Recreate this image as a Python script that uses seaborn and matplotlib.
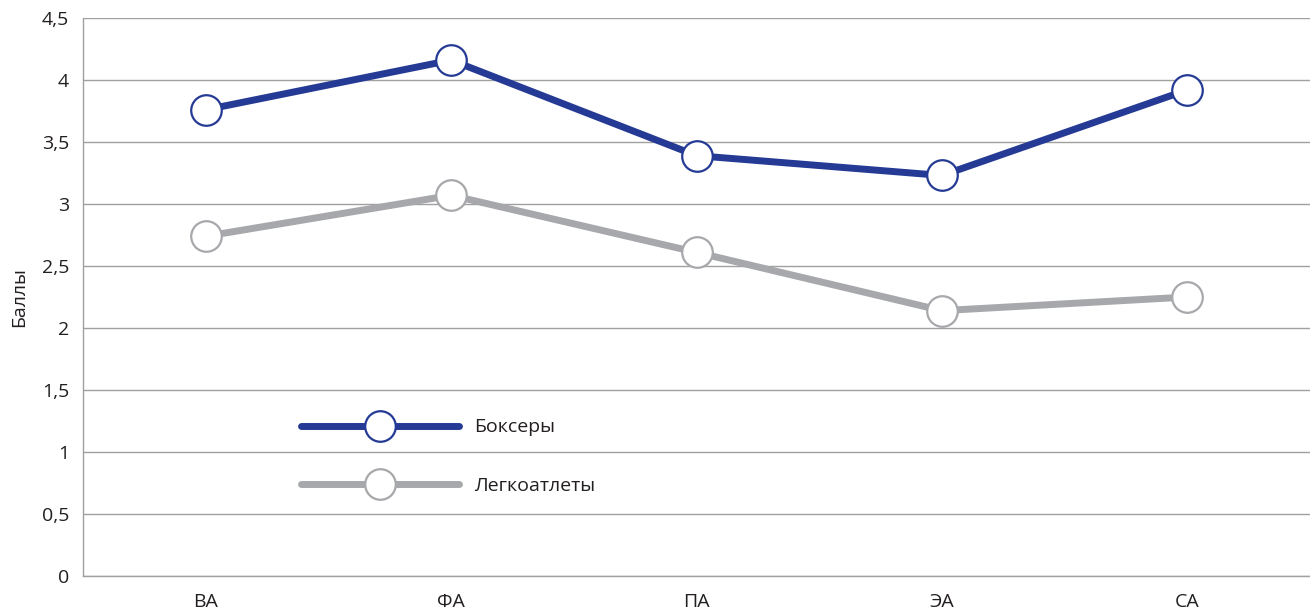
import pandas as pd
import matplotlib
matplotlib.use("Agg")
import matplotlib.pyplot as plt
import seaborn as sns

# Data
categories = ["ВА", "ФА", "ПА", "ЭА", "СА"]
boxers = [3.76, 4.16, 3.39, 3.23, 3.92]
athletes = [2.74, 3.07, 2.61, 2.14, 2.25]
series_names = ["Боксеры", "Легкоатлеты"]
y_ticks = [0, 0.5, 1, 1.5, 2, 2.5, 3, 3.5, 4, 4.5]
y_tick_labels = ["0", "0,5", "1", "1,5", "2", "2,5", "3", "3,5", "4", "4,5"]

colors = ["#253a94", "#a7a8ab"]

sns.set_style("white")
plt.rcParams['font.family'] = ['Open Sans', 'DejaVu Sans']

df = pd.DataFrame({
    "cat": categories * 2,
    "x": list(range(len(categories))) * 2,
    "value": boxers + athletes,
    "group": [series_names[0]] * len(boxers) + [series_names[1]] * len(athletes),
})

fig = plt.figure(figsize=(13.1, 6.12), dpi=100)
ax = fig.add_axes([0.0634, 0.0588, 0.9366, 0.9118])

for name, color in zip(series_names, colors):
    sub = df[df["group"] == name]
    sns.lineplot(data=sub, x="x", y="value", ax=ax, color=color, linewidth=5,
                 marker="o", markersize=22, markerfacecolor="white",
                 markeredgecolor=color, markeredgewidth=1.6,
                 solid_capstyle="round", label=name)

ax.set_xlim(-0.5, len(categories) - 0.5)
ax.set_ylim(0, 4.5)
ax.set_xticks(range(len(categories)))
ax.set_xticklabels(categories, fontsize=14, color="#231f20")
ax.set_yticks(y_ticks)
ax.set_yticklabels(y_tick_labels, fontsize=14, color="#231f20")
ax.tick_params(axis="x", length=0, pad=12)
ax.tick_params(axis="y", length=0, pad=10)
ax.set_xlabel("")
ax.set_ylabel("Баллы", fontsize=14, color="#231f20", labelpad=10)
ax.grid(axis="y", color="#a0a0a0", linewidth=1)
ax.set_axisbelow(True)

for side in ["top", "right"]:
    ax.spines[side].set_visible(False)
for side in ["left", "bottom"]:
    ax.spines[side].set_color("#a0a0a0")
    ax.spines[side].set_linewidth(1)

leg = ax.legend(loc="upper left", bbox_to_anchor=(0.17, 0.30), frameon=False,
                fontsize=14, handlelength=8.1, numpoints=1, labelspacing=2.1,
                handletextpad=0.8, borderpad=0)
for t in leg.get_texts():
    t.set_color("#231f20")

fig.savefig("out.png", dpi=100)
